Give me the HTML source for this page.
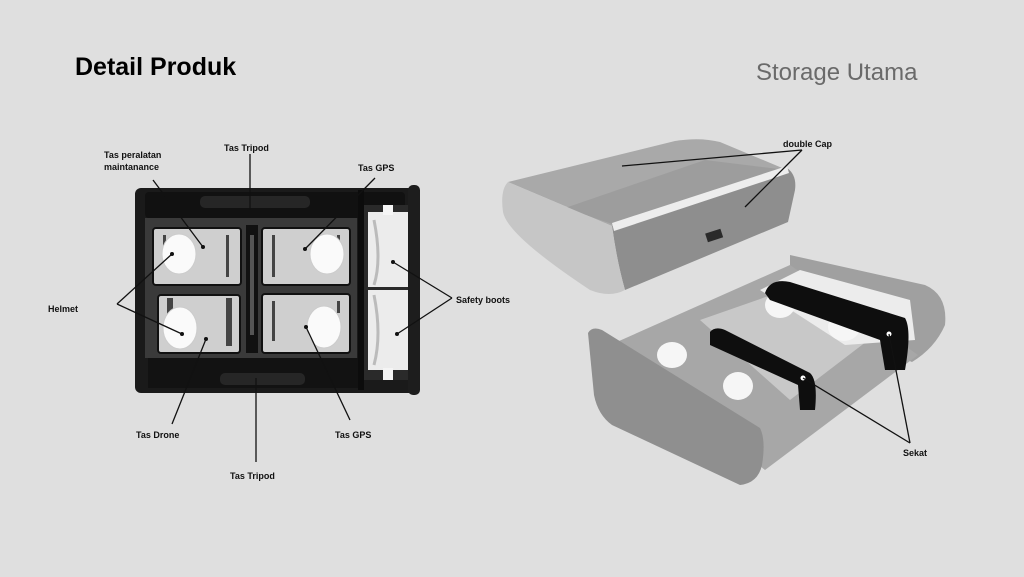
<!DOCTYPE html>
<html><head><style>
body{margin:0;width:1024px;height:572px;background:#dfdfdf;overflow:hidden;font-family:"Liberation Sans",sans-serif}
</style></head><body>
<svg width="1024" height="572" viewBox="0 0 1024 572" xmlns="http://www.w3.org/2000/svg" font-family="Liberation Sans, sans-serif">
<rect width="1024" height="572" fill="#dfdfdf"/>
<text x="75" y="75" font-size="25" font-weight="bold" fill="#000">Detail Produk</text>
<text x="756" y="80" font-size="24" fill="#6a6a6a">Storage Utama</text>

<!-- left box -->
<rect x="135" y="188" width="282" height="205" rx="6" fill="#1a1a1a"/>
<rect x="145" y="192" width="260" height="26" rx="4" fill="#111"/>
<rect x="200" y="196" width="110" height="12" rx="5" fill="#262626"/>
<rect x="145" y="218" width="212" height="140" fill="#3a3a3a"/>
<rect x="148" y="358" width="210" height="30" fill="#121212"/>
<rect x="220" y="373" width="85" height="12" rx="5" fill="#262626"/>
<rect x="246" y="225" width="12" height="128" fill="#111"/>
<rect x="250" y="235" width="4" height="100" fill="#555"/>
<g fill="#cfcfcf" stroke="#111" stroke-width="2">
<rect x="153" y="228" width="88" height="57" rx="3"/>
<rect x="262" y="228" width="88" height="57" rx="3"/>
<rect x="158" y="295" width="82" height="58" rx="3"/>
<rect x="262" y="294" width="88" height="59" rx="3"/>
</g>
<g fill="#444">
<rect x="163" y="235" width="3" height="16"/><rect x="226" y="235" width="3" height="42"/>
<rect x="272" y="235" width="3" height="42"/><rect x="337" y="235" width="3" height="10"/>
<rect x="167" y="298" width="6" height="20"/><rect x="226" y="298" width="6" height="48"/>
<rect x="272" y="301" width="3" height="40"/><rect x="337" y="301" width="3" height="12"/>
</g>
<g fill="#fafafa" stroke="#ccc">
<ellipse cx="179" cy="254" rx="17" ry="20"/>
<ellipse cx="327" cy="254" rx="17" ry="20"/>
<ellipse cx="180" cy="328" rx="17" ry="21"/>
<ellipse cx="324" cy="327" rx="17" ry="21"/>
</g>
<rect x="358" y="190" width="6" height="200" fill="#0c0c0c"/>
<rect x="364" y="205" width="50" height="175" fill="#2a2a2a"/>
<path d="M368 212 h45 v75 h-45 z" fill="#ececec"/>
<path d="M368 290 h45 v80 h-45 z" fill="#ececec"/>
<rect x="383" y="205" width="10" height="10" fill="#f5f5f5"/>
<rect x="383" y="368" width="10" height="12" fill="#f5f5f5"/>
<path d="M374 220 q8 40 0 65" stroke="#bbb" fill="none" stroke-width="3"/>
<path d="M374 295 q8 40 0 70" stroke="#bbb" fill="none" stroke-width="3"/>
<rect x="408" y="185" width="12" height="210" rx="5" fill="#1d1d1d"/>

<g stroke="#111" stroke-width="1.3" fill="none">
<line x1="153" y1="180" x2="203" y2="247"/>
<line x1="250" y1="154" x2="250" y2="210"/>
<line x1="375" y1="178" x2="305" y2="249"/>
<line x1="117" y1="304" x2="172" y2="254"/>
<line x1="117" y1="304" x2="182" y2="334"/>
<line x1="172" y1="424" x2="206" y2="339"/>
<line x1="256" y1="378" x2="256" y2="462"/>
<line x1="350" y1="420" x2="306" y2="327"/>
<line x1="452" y1="298" x2="393" y2="262"/>
<line x1="452" y1="298" x2="397" y2="334"/>
</g>
<g fill="#111">
<circle cx="203" cy="247" r="2"/><circle cx="305" cy="249" r="2"/><circle cx="172" cy="254" r="2"/><circle cx="182" cy="334" r="2"/><circle cx="206" cy="339" r="2"/><circle cx="306" cy="327" r="2"/><circle cx="393" cy="262" r="2"/><circle cx="397" cy="334" r="2"/>
</g>
<g font-size="9" font-weight="bold" fill="#111">
<text x="104" y="158">Tas peralatan</text>
<text x="104" y="170">maintanance</text>
<text x="224" y="151">Tas Tripod</text>
<text x="358" y="171">Tas GPS</text>
<text x="48" y="312">Helmet</text>
<text x="456" y="303">Safety boots</text>
<text x="136" y="438">Tas Drone</text>
<text x="335" y="438">Tas GPS</text>
<text x="230" y="479">Tas Tripod</text>
<text x="783" y="147">double Cap</text>
<text x="903" y="456">Sekat</text>
</g>

<!-- lid -->
<path d="M508 182 L675 141 Q700 137 720 142 L787 170 L612 226 Z" fill="#a9a9a9"/>
<path d="M565 208 L705 160 L787 170 L618 226 Z" fill="#9d9d9d"/>
<path d="M612 226 L787 168 Q797 175 795 190 L788 222 L625 290 Q617 262 612 226 Z" fill="#8e8e8e"/>
<path d="M612 223 L787 166 L789 173 L614 231 Z" fill="#ededed"/>
<path d="M508 182 Q500 190 503 212 Q507 235 590 290 Q610 298 625 290 Q617 262 612 226 Z" fill="#c6c6c6"/>
<rect x="706" y="231" width="16" height="9" fill="#2a2a2a" transform="rotate(-18 714 235)"/>

<!-- base -->
<path d="M790 255 L925 285 Q948 295 945 325 Q935 348 912 362 L790 310 Z" fill="#a0a0a0"/>
<path d="M610 345 L790 265 L918 355 L765 470 Z" fill="#a7a7a7"/>
<path d="M700 320 L800 285 L875 335 L790 400 Z" fill="#c8c8c8"/>
<path d="M760 290 L800 270 L910 300 L915 340 L845 345 Z" fill="#ececec"/>
<path d="M588 333 Q592 326 602 330 L760 428 Q766 440 762 465 Q758 483 740 485 L612 425 Q598 415 594 395 Z" fill="#8f8f8f"/>
<g fill="#f6f6f6">
<ellipse cx="780" cy="305" rx="15" ry="13"/><ellipse cx="844" cy="327" rx="16" ry="14"/>
<ellipse cx="672" cy="355" rx="15" ry="13"/><ellipse cx="738" cy="386" rx="15" ry="14"/>
</g>
<path d="M765 293 Q770 278 790 282 L905 318 Q912 330 905 370 L885 370 L880 340 L770 300 Z" fill="#0e0e0e"/>
<path d="M710 332 Q715 326 725 330 L810 373 Q818 380 815 410 L800 410 L798 385 L710 345 Z" fill="#0e0e0e"/>
<circle cx="803" cy="378" r="2.5" fill="#fff"/><circle cx="889" cy="334" r="2.5" fill="#fff"/>

<g stroke="#111" stroke-width="1.3" fill="none">
<line x1="622" y1="166" x2="802" y2="150"/>
<line x1="802" y1="150" x2="745" y2="207"/>
<line x1="803" y1="378" x2="910" y2="443"/>
<line x1="889" y1="334" x2="910" y2="443"/>
</g>
</svg>
</body></html>
